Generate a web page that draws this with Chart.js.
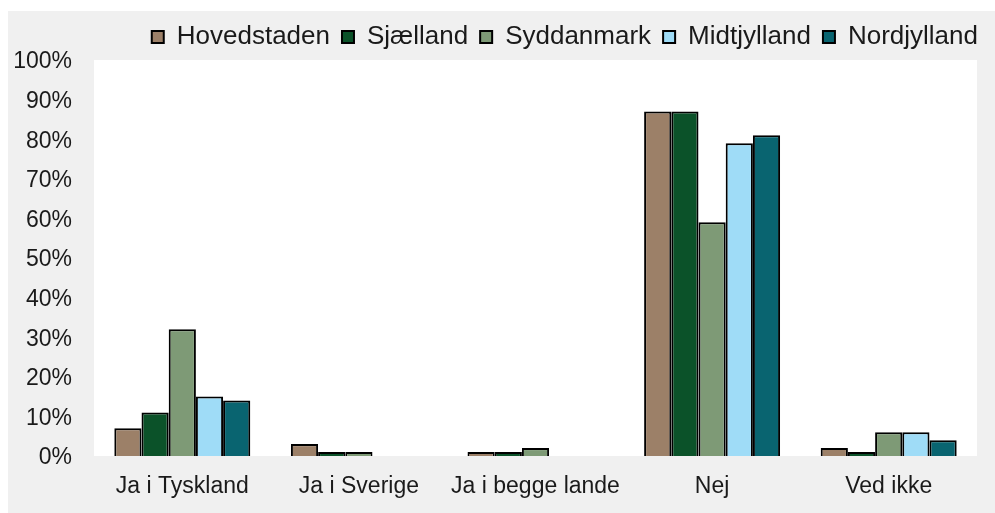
<!DOCTYPE html>
<html>
<head>
<meta charset="utf-8">
<script src="https://cdn.jsdelivr.net/npm/chart.js@4/dist/chart.umd.min.js"></script>
<style>
  html, body { margin: 0; padding: 0; background: #ffffff; }
  #panel { position: absolute; left: 8px; top: 11px; width: 987px; height: 502px; background: #f0f0f0; }
  canvas { display: block; }
</style>
</head>
<body>
<div id="panel"><canvas id="chart" width="987" height="502"></canvas></div>
<script>
const categories = ['Ja i Tyskland', 'Ja i Sverige', 'Ja i begge lande', 'Nej', 'Ved ikke'];
const regions = ['Hovedstaden', 'Sjælland', 'Syddanmark', 'Midtjylland', 'Nordjylland'];
const hovedstaden = [7, 3, 1, 87, 2];
const sjaelland = [11, 1, 1, 87, 1];
const syddanmark = [32, 1, 2, 59, 6];
const midtjylland = [15, 0, 0, 79, 6];
const nordjylland = [14, 0, 0, 81, 4];
const yTicks = [0, 10, 20, 30, 40, 50, 60, 70, 80, 90, 100];

const colors = ['#9c8068', '#0b5229', '#7e9a76', '#9fdcf7', '#096470'];
const seriesValues = [hovedstaden, sjaelland, syddanmark, midtjylland, nordjylland];

const plotBackground = {
    id: 'plotBackground',
    beforeDraw(chart) {
        const { ctx, chartArea } = chart;
        ctx.save();
        ctx.fillStyle = '#ffffff';
        ctx.fillRect(chartArea.left, chartArea.top, chartArea.right - chartArea.left, chartArea.bottom - chartArea.top);
        ctx.restore();
    }
};

const ctx = document.getElementById('chart').getContext('2d');
new Chart(ctx, {
    type: 'bar',
    data: {
        labels: categories,
        datasets: regions.map((name, i) => ({
            label: name,
            data: seriesValues[i],
            backgroundColor: colors[i],
            borderColor: '#000000',
            borderWidth: 2,
            categoryPercentage: 0.77,
            barPercentage: 1
        }))
    },
    options: {
        responsive: false,
        animation: false,
        layout: { padding: { top: 1, right: 5, bottom: 0, left: 0 } },
        scales: {
            x: {
                grid: { display: false, drawTicks: false },
                border: { display: false },
                ticks: {
                    color: '#1a1a1a',
                    padding: 17,
                    font: { family: 'Liberation Sans', size: 23 }
                },
                afterFit(scale) { scale.height = 57; }
            },
            y: {
                min: 0,
                max: 100,
                afterBuildTicks(scale) { scale.ticks = yTicks.map(v => ({ value: v })); },
                grid: { display: false, drawTicks: false },
                border: { display: false },
                ticks: {
                    color: '#1a1a1a',
                    padding: 22,
                    labelOffset: 2,
                    font: { family: 'Liberation Sans', size: 23 },
                    callback: v => v + '%'
                },
                afterFit(scale) { scale.width = 86; }
            },
            yRight: {
                type: 'linear',
                position: 'right',
                grid: { display: false, drawTicks: false },
                border: { display: false },
                ticks: { display: false },
                afterFit(scale) { scale.width = 13; }
            }
        },
        plugins: {
            legend: {
                display: true,
                position: 'top',
                align: 'end',
                labels: {
                    color: '#1a1a1a',
                    boxWidth: 12,
                    boxHeight: 12,
                    padding: 12,
                    font: { family: 'Liberation Sans', size: 26 }
                }
            },
            tooltip: { enabled: false }
        }
    },
    plugins: [plotBackground]
});
</script>
</body>
</html>
